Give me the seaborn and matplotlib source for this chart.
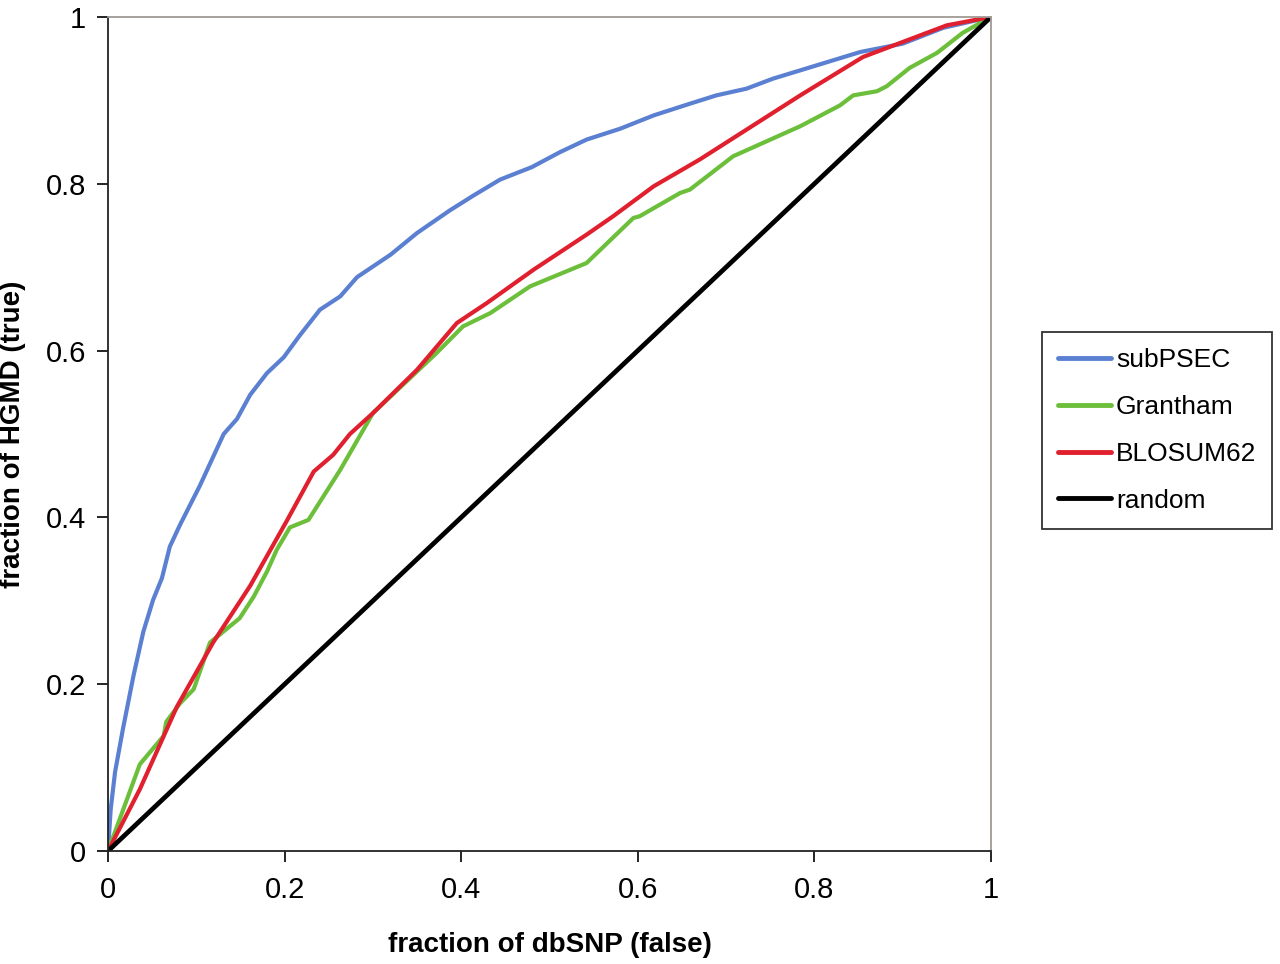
import pandas as pd
import seaborn as sns
import matplotlib.pyplot as plt

# =========================
# DATA
# =========================

subpsec_x = [0, 0.003, 0.008, 0.017, 0.029, 0.040, 0.051, 0.061, 0.070, 0.0815, 0.104,
             0.131, 0.146, 0.161, 0.180, 0.199, 0.217, 0.240, 0.263, 0.282, 0.320,
             0.350, 0.387, 0.414, 0.444, 0.480, 0.512, 0.542, 0.580, 0.618, 0.659,
             0.689, 0.723, 0.753, 0.784, 0.852, 0.900, 0.946, 1.0]
subpsec_y = [0, 0.05, 0.095, 0.147, 0.211, 0.263, 0.301, 0.327, 0.365, 0.391, 0.438,
             0.500, 0.518, 0.547, 0.573, 0.592, 0.618, 0.649, 0.665, 0.688, 0.715,
             0.741, 0.768, 0.786, 0.805, 0.820, 0.838, 0.853, 0.866, 0.882, 0.896,
             0.906, 0.914, 0.926, 0.936, 0.958, 0.968, 0.987, 1.0]

grantham_x = [0, 0.036, 0.063, 0.066, 0.0815, 0.097, 0.104, 0.1155, 0.149, 0.165,
              0.180, 0.191, 0.206, 0.227, 0.263, 0.300, 0.372, 0.402, 0.433, 0.478,
              0.542, 0.595, 0.602, 0.648, 0.659, 0.708, 0.784, 0.829, 0.844, 0.871,
              0.882, 0.908, 0.939, 0.968, 1.0]
grantham_y = [0, 0.104, 0.138, 0.155, 0.177, 0.194, 0.215, 0.250, 0.279, 0.305,
              0.335, 0.361, 0.388, 0.397, 0.457, 0.525, 0.597, 0.629, 0.645, 0.677,
              0.705, 0.759, 0.761, 0.789, 0.793, 0.833, 0.869, 0.894, 0.906, 0.911,
              0.917, 0.939, 0.957, 0.981, 1.0]

blosum_x = [0, 0.036, 0.078, 0.119, 0.161, 0.202, 0.233, 0.255, 0.274, 0.300, 0.350,
            0.395, 0.429, 0.482, 0.542, 0.572, 0.618, 0.670, 0.784, 0.855, 0.950, 1.0]
blosum_y = [0, 0.074, 0.173, 0.250, 0.318, 0.395, 0.455, 0.475, 0.500, 0.525, 0.577,
            0.633, 0.657, 0.697, 0.739, 0.761, 0.797, 0.829, 0.906, 0.952, 0.990, 1.0]

random_x = [0, 1]
random_y = [0, 1]

series = ['subPSEC', 'Grantham', 'BLOSUM62', 'random']
cores = {'subPSEC': '#5b80d2', 'Grantham': '#6cbf3a',
         'BLOSUM62': '#e0202e', 'random': '#000000'}

dados = pd.concat([
    pd.DataFrame({'x': subpsec_x, 'y': subpsec_y, 'serie': 'subPSEC'}),
    pd.DataFrame({'x': grantham_x, 'y': grantham_y, 'serie': 'Grantham'}),
    pd.DataFrame({'x': blosum_x, 'y': blosum_y, 'serie': 'BLOSUM62'}),
    pd.DataFrame({'x': random_x, 'y': random_y, 'serie': 'random'}),
], ignore_index=True)

# =========================
# PLOT
# =========================

sns.set_style('ticks')
plt.rcParams['font.family'] = ['Liberation Sans', 'DejaVu Sans']
plt.rcParams['text.color'] = 'black'
plt.rcParams['axes.labelcolor'] = 'black'

fig = plt.figure(figsize=(12.8, 9.64), dpi=100)
ax = fig.add_axes([0.0844, 0.1172, 0.6898, 0.8652])

for nome in series:
    sub = dados[dados['serie'] == nome]
    sns.lineplot(data=sub, x='x', y='y', ax=ax, sort=False, color=cores[nome],
                 linewidth=3.4 if nome == 'random' else 3.0, label=nome,
                 solid_capstyle='round', solid_joinstyle='round')

ax.set_xlim(0, 1)
ax.set_ylim(0, 1)
ax.set_xticks([0, 0.2, 0.4, 0.6, 0.8, 1])
ax.set_yticks([0, 0.2, 0.4, 0.6, 0.8, 1])
ax.set_xticklabels(['0', '0.2', '0.4', '0.6', '0.8', '1'])
ax.set_yticklabels(['0', '0.2', '0.4', '0.6', '0.8', '1'])
ax.tick_params(direction='out', length=8, width=1.2, labelsize=21, colors='black', pad=8)
ax.tick_params(axis='x', pad=10)

for lado in ['left', 'bottom']:
    ax.spines[lado].set_color('#222222')
    ax.spines[lado].set_linewidth(1.3)
for lado in ['top', 'right']:
    ax.spines[lado].set_visible(True)
    ax.spines[lado].set_color('#a09a94')
    ax.spines[lado].set_linewidth(1.3)

ax.set_xlabel('fraction of dbSNP (false)', fontsize=20, fontweight='bold', labelpad=20)
ax.set_ylabel('fraction of HGMD (true)', fontsize=20, fontweight='bold', labelpad=14)

leg = ax.legend(loc='upper left', bbox_to_anchor=(0.814, 0.6556),
                bbox_transform=fig.transFigure, borderaxespad=0, fontsize=19,
                frameon=True, fancybox=False, edgecolor='black', handlelength=2.0,
                handletextpad=0.2, labelspacing=0.87, borderpad=0.6)
leg.get_frame().set_linewidth(1.3)
for linha in leg.get_lines():
    linha.set_linewidth(3.5)

plt.savefig('out.png', dpi=100)
